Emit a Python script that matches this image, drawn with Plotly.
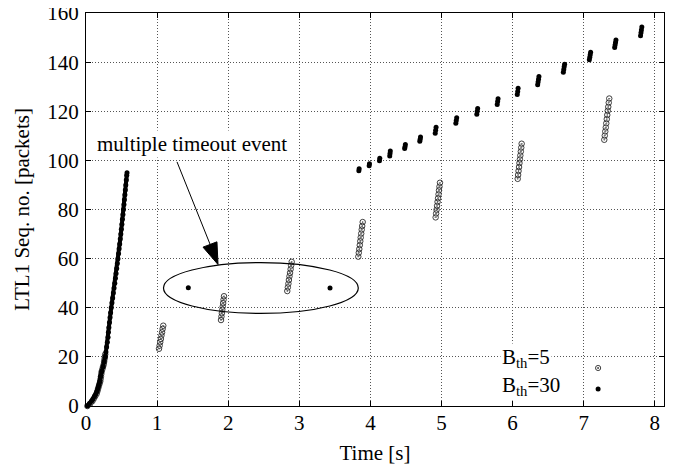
import plotly.graph_objects as go

# ---------------- data ----------------
# B_th=30 : slow-start curve
b30_start_x = [0.02, 0.05, 0.08, 0.10, 0.12, 0.14, 0.155, 0.165, 0.175, 0.185, 0.195,
               0.205, 0.22, 0.24, 0.255, 0.27, 0.28, 0.29, 0.30, 0.31, 0.315, 0.322,
               0.33, 0.338, 0.346, 0.355, 0.365, 0.375, 0.385, 0.395, 0.405, 0.414,
               0.423, 0.432, 0.441, 0.45, 0.458, 0.466, 0.474, 0.482, 0.49, 0.497,
               0.505, 0.512, 0.52, 0.527, 0.534, 0.54, 0.547, 0.553, 0.56, 0.567,
               0.573, 0.577]
b30_start_y = [0, 1, 2, 3, 4, 5, 6, 7, 8, 9, 10,
               12, 14, 16, 18, 20, 22, 24, 26, 28, 30, 32,
               34, 36, 38, 40, 42, 44, 46, 48, 50, 52,
               54, 56, 58, 60, 62, 64, 66, 68, 70, 72,
               74, 76, 78, 80, 82, 84, 86, 88, 90, 92,
               94, 95]
# B_th=30 : timeout retransmissions inside the ellipse
b30_timeout_x = [1.439, 3.432]
b30_timeout_y = [48.1, 48.0]
# B_th=30 : later bursts
b30_burst_x = [3.838, 3.842,
               3.983, 3.987,
               4.128, 4.132,
               4.272, 4.276, 4.280,
               4.482, 4.487, 4.492,
               4.695, 4.700, 4.705,
               4.912, 4.918, 4.924,
               5.202, 5.208, 5.214,
               5.497, 5.503, 5.509,
               5.784, 5.790, 5.796,
               6.066, 6.072, 6.078,
               6.353, 6.359, 6.365, 6.371,
               6.714, 6.720, 6.726, 6.732,
               7.080, 7.086, 7.092, 7.098,
               7.436, 7.442, 7.448, 7.454,
               7.800, 7.806, 7.812, 7.818]
b30_burst_y = [95.8, 96.6,
               97.8, 98.6,
               99.9, 100.9,
               101.8, 102.8, 103.8,
               104.8, 105.6, 106.5,
               107.8, 108.6, 109.5,
               111.1, 112.3, 113.5,
               115.1, 116.2, 117.4,
               118.8, 120.0, 121.1,
               122.8, 124.0, 125.1,
               126.8, 128.1, 129.4,
               130.8, 131.9, 133.0, 134.2,
               135.9, 137.0, 138.1, 139.2,
               141.0, 142.0, 143.0, 144.0,
               146.0, 147.0, 148.0, 149.0,
               150.8, 152.0, 153.1, 154.3]

# B_th=5 : slow start
b5_start_x = [0.02, 0.06, 0.09, 0.11, 0.13, 0.15, 0.16, 0.17, 0.18, 0.19, 0.20,
              0.205, 0.21, 0.215, 0.22, 0.23, 0.24, 0.25, 0.255, 0.26, 0.265, 0.27]
b5_start_y = [0, 1, 2, 3, 4, 5, 6, 7, 8, 9, 10,
              11, 12, 13, 14, 15, 16, 17, 18, 19, 20, 21]
# B_th=5 : retransmission bursts
b5_burst_x = [1.027, 1.036, 1.044, 1.053, 1.061, 1.070, 1.078, 1.087,
              1.899, 1.905, 1.911, 1.917, 1.923, 1.929, 1.935, 1.941,
              2.831, 2.839, 2.847, 2.854, 2.862, 2.870, 2.878, 2.885, 2.893,
              3.830, 3.837, 3.844, 3.851, 3.858, 3.864, 3.871, 3.878, 3.885, 3.892,
              4.918, 4.925, 4.931, 4.938, 4.945, 4.952, 4.959, 4.965, 4.972, 4.979,
              6.072, 6.078, 6.084, 6.091, 6.097, 6.103, 6.109, 6.116, 6.122, 6.128,
              7.290, 7.297, 7.304, 7.311, 7.318, 7.325, 7.332, 7.339, 7.346, 7.353, 7.360]
b5_burst_y = [23.3, 24.6, 26.0, 27.3, 28.7, 30.0, 31.4, 32.7,
              35.0, 36.4, 37.8, 39.2, 40.5, 41.9, 43.3, 44.7,
              46.8, 48.3, 49.8, 51.3, 52.8, 54.2, 55.7, 57.2, 58.7,
              60.8, 62.4, 63.9, 65.5, 67.1, 68.6, 70.2, 71.8, 73.3, 74.9,
              76.8, 78.4, 79.9, 81.5, 83.1, 84.6, 86.2, 87.8, 89.3, 90.9,
              92.5, 94.1, 95.7, 97.3, 98.9, 100.4, 102.0, 103.6, 105.2, 106.8,
              108.4, 110.1, 111.8, 113.4, 115.1, 116.8, 118.5, 120.2, 121.8, 123.5, 125.2]

x_ticks = [0, 1, 2, 3, 4, 5, 6, 7, 8]
y_ticks = [0, 20, 40, 60, 80, 100, 120, 140, 160]

FONT = "Liberation Serif"
FS = 21

fig = go.Figure()

circle_marker = dict(symbol="circle-open-dot", size=5.5, color="#2a2a2a",
                     line=dict(width=0.9, color="#2a2a2a"))
dot_marker = dict(symbol="circle", size=5, color="black", line=dict(width=0))

fig.add_trace(go.Scatter(x=b5_start_x + b5_burst_x, y=b5_start_y + b5_burst_y,
                         mode="markers", marker=circle_marker, name="B_th=5",
                         showlegend=False, cliponaxis=False))
# slow-start part of B_th=30 is so dense it reads as a thick line
fig.add_trace(go.Scatter(x=b30_start_x, y=b30_start_y, mode="lines+markers",
                         line=dict(color="black", width=4), marker=dot_marker,
                         name="B_th=30", showlegend=False, cliponaxis=False))
fig.add_trace(go.Scatter(x=b30_timeout_x + b30_burst_x,
                         y=b30_timeout_y + b30_burst_y,
                         mode="markers", marker=dot_marker, name="B_th=30",
                         showlegend=False, cliponaxis=False))

axis_common = dict(showline=True, linecolor="black", linewidth=1, mirror="allticks",
                   ticks="inside", ticklen=5, tickcolor="black", tickwidth=1,
                   showgrid=True, gridcolor="#555555", gridwidth=1, griddash="1px,2px",
                   zeroline=False, automargin=False, ticklabeloverflow="allow",
                   tickfont=dict(family=FONT, size=FS, color="black"))

fig.update_xaxes(range=[0, 8.13], tickvals=x_ticks, ticktext=[str(v) for v in x_ticks],
                 title=dict(text="Time [s]", font=dict(family=FONT, size=FS, color="black"),
                            standoff=11),
                 ticklabelstandoff=-2, **axis_common)
fig.update_yaxes(range=[0, 160.02], tickvals=y_ticks, ticktext=[str(v) for v in y_ticks],
                 title=dict(text="LTL1 Seq. no. [packets]",
                            font=dict(family=FONT, size=FS, color="black"), standoff=11),
                 ticklabelstandoff=2, **axis_common)

# ellipse around the timeout events
fig.add_shape(type="circle", xref="x", yref="y", x0=1.09, x1=3.83, y0=37.7, y1=58.4,
              line=dict(color="black", width=1.2))

# annotation text + arrow (shaft and filled head)
fig.add_annotation(x=1.49, y=106.5, xref="x", yref="y", text="multiple timeout event",
                   showarrow=False, font=dict(family=FONT, size=FS, color="black"),
                   xanchor="center", yanchor="middle", bgcolor="white")
fig.add_shape(type="line", xref="x", yref="y", x0=1.28, y0=99.4, x1=1.75, y1=65.5,
              line=dict(color="black", width=1))
fig.add_shape(type="path", xref="x", yref="y",
              path="M1.857,57.6 L1.842,66.84 L1.646,64.69 Z",
              line=dict(color="black", width=1), fillcolor="black")

# key (text left, symbol right)
fig.add_annotation(x=0.716, y=0.123, xref="paper", yref="paper", text="B<sub>th</sub>=5",
                   showarrow=False, xanchor="left", yanchor="middle",
                   font=dict(family=FONT, size=FS, color="black"), bgcolor="white")
fig.add_annotation(x=0.716, y=0.052, xref="paper", yref="paper", text="B<sub>th</sub>=30",
                   showarrow=False, xanchor="left", yanchor="middle",
                   font=dict(family=FONT, size=FS, color="black"), bgcolor="white")
fig.add_shape(type="circle", xref="paper", yref="paper", xsizemode="pixel", ysizemode="pixel",
              xanchor=0.886, yanchor=0.0967, x0=-2.6, x1=2.6, y0=-2.6, y1=2.6,
              line=dict(color="#2a2a2a", width=0.9))
fig.add_shape(type="circle", xref="paper", yref="paper", xsizemode="pixel", ysizemode="pixel",
              xanchor=0.886, yanchor=0.0967, x0=-0.7, x1=0.7, y0=-0.7, y1=0.7,
              line=dict(color="#2a2a2a", width=0.5), fillcolor="#2a2a2a")
fig.add_shape(type="circle", xref="paper", yref="paper", xsizemode="pixel", ysizemode="pixel",
              xanchor=0.886, yanchor=0.0433, x0=-2.5, x1=2.5, y0=-2.5, y1=2.5,
              line=dict(color="black", width=0), fillcolor="black")

# page body has an 8px margin: compensate so the plot frame lands where it does in the reference
fig.update_layout(width=671, height=460, margin=dict(l=78, r=15, t=5, b=62),
                  paper_bgcolor="white", plot_bgcolor="white",
                  font=dict(family=FONT, size=FS, color="black"), showlegend=False)

fig.write_html("out.html")
